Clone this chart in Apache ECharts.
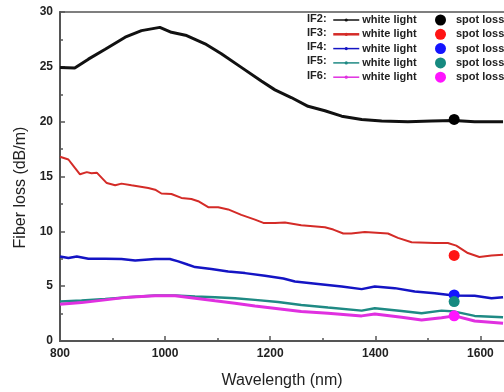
<!DOCTYPE html>
<html>
<head>
<meta charset="utf-8">
<script src="https://cdn.jsdelivr.net/npm/echarts@6/dist/echarts.min.js"></script>
<style>
  html, body { margin: 0; padding: 0; background: #fff; overflow: hidden; }
  /* the plot runs past the right edge, like the cropped original */
  #wrap { width: 504px; height: 392px; overflow: hidden; position: relative; }
  #chart { width: 533px; height: 392px; position: absolute; left: 0; top: 0; }
</style>
</head>
<body>
<div id="wrap"><div id="chart"></div></div>
<script>
// white light curves (nm, dB/m)
const if2Wl = [800, 828, 854, 886, 924, 955, 990, 1012, 1041, 1076, 1107, 1145, 1183, 1209, 1240, 1272, 1304, 1336, 1374, 1412, 1462, 1507, 1550, 1589, 1643];
const if2Loss = [24.95, 24.9, 25.7, 26.6, 27.7, 28.3, 28.6, 28.15, 27.85, 27.1, 26.2, 24.95, 23.7, 22.9, 22.2, 21.4, 21.0, 20.5, 20.2, 20.05, 20.0, 20.05, 20.1, 20.0, 20.0];

const if3Wl = [800, 816, 828, 838, 851, 860, 870, 879, 889, 905, 917, 936, 968, 981, 993, 1012, 1031, 1050, 1063, 1082, 1101, 1120, 1145, 1171, 1187, 1209, 1228, 1259, 1304, 1320, 1339, 1354, 1380, 1424, 1443, 1469, 1513, 1538, 1554, 1576, 1598, 1621, 1643];
const if3Loss = [16.8, 16.55, 15.8, 15.2, 15.4, 15.3, 15.35, 14.9, 14.4, 14.2, 14.35, 14.2, 13.95, 13.8, 13.45, 13.4, 13.05, 12.95, 12.75, 12.2, 12.2, 12.0, 11.5, 11.07, 10.77, 10.77, 10.8, 10.55, 10.37, 10.16, 9.8, 9.8, 9.94, 9.8, 9.4, 9.0, 8.93, 8.93, 8.7, 8.02, 7.66, 7.8, 7.87];

const if4Wl = [800, 816, 832, 854, 886, 917, 943, 981, 1009, 1025, 1044, 1057, 1088, 1120, 1152, 1190, 1225, 1247, 1291, 1336, 1374, 1399, 1437, 1475, 1513, 1549, 1589, 1621, 1643];
const if4Loss = [7.71, 7.56, 7.71, 7.5, 7.5, 7.47, 7.35, 7.47, 7.47, 7.26, 6.95, 6.74, 6.56, 6.34, 6.19, 5.95, 5.7, 5.43, 5.2, 4.97, 4.73, 4.97, 4.82, 4.51, 4.36, 4.14, 4.12, 3.9, 4.0];

const if5Wl = [800, 841, 886, 930, 981, 1019, 1057, 1095, 1133, 1171, 1215, 1259, 1310, 1374, 1399, 1450, 1488, 1526, 1551, 1589, 1643];
const if5Loss = [3.6, 3.69, 3.84, 4.0, 4.15, 4.15, 4.06, 4.0, 3.9, 3.75, 3.55, 3.29, 3.05, 2.77, 2.99, 2.74, 2.53, 2.77, 2.68, 2.29, 2.17];

const if6Wl = [800, 841, 886, 930, 981, 1019, 1057, 1095, 1133, 1171, 1215, 1259, 1310, 1374, 1399, 1450, 1488, 1526, 1551, 1589, 1643];
const if6Loss = [3.36, 3.5, 3.75, 4.0, 4.12, 4.12, 3.9, 3.66, 3.45, 3.2, 2.95, 2.68, 2.53, 2.29, 2.47, 2.17, 1.92, 2.13, 2.29, 1.83, 1.62];

// spot loss measurements at 1550 nm
const spotWl = 1550;
const spotLoss = [20.2, 7.8, 4.2, 3.6, 2.3];

const fiberNames = ['IF2', 'IF3', 'IF4', 'IF5', 'IF6'];
const lineColors = ['#111111', '#d42b27', '#1414c4', '#1f8a84', '#e030e0'];
const dotColors = ['#000000', '#ff1414', '#1414ff', '#168a80', '#ff14ff'];
const lineWidths = [3, 2, 2.5, 2.5, 3];

const curves = [
  [if2Wl, if2Loss],
  [if3Wl, if3Loss],
  [if4Wl, if4Loss],
  [if5Wl, if5Loss],
  [if6Wl, if6Loss]
];

const chart = echarts.init(document.getElementById('chart'));

const series = [];
curves.forEach(([wl, loss], i) => {
  series.push({
    name: fiberNames[i] + ' white light',
    type: 'line',
    data: wl.map((x, k) => [x, loss[k]]),
    symbol: i === 1 ? 'none' : 'circle',
    showSymbol: false,
    lineStyle: { width: lineWidths[i], color: lineColors[i] },
    itemStyle: { color: lineColors[i] },
    z: 2
  });
});
spotLoss.forEach((v, i) => {
  series.push({
    name: fiberNames[i] + ' spot loss',
    type: 'scatter',
    data: [[spotWl, v]],
    symbol: 'circle',
    symbolSize: 11,
    itemStyle: { color: dotColors[i], opacity: 1 },
    z: 5
  });
});

const axisColor = '#555';
const labelStyle = {
  fontFamily: 'Liberation Sans, Arial',
  fontWeight: 'bold',
  fontSize: 12,
  color: '#222',
  formatter: v => String(v)
};

chart.setOption({
  animation: false,
  backgroundColor: '#fff',
  grid: {
    left: 60,
    right: 0,
    top: 12,
    bottom: 51,
    outerBoundsMode: 'none',
    show: true,
    borderColor: axisColor,
    borderWidth: 1.5
  },
  xAxis: {
    type: 'value',
    min: 800,
    max: 1700,
    interval: 200,
    name: 'Wavelength (nm)',
    nameLocation: 'middle',
    nameGap: 32,
    nameTextStyle: { fontFamily: 'Liberation Sans, Arial', fontSize: 16, color: '#222', padding: [0, 29, 0, 0] },
    axisLine: { lineStyle: { color: axisColor, width: 2 } },
    axisTick: { inside: true, length: 5, lineStyle: { color: axisColor, width: 1.5 } },
    minorTick: { show: true, splitNumber: 2, length: 3, lineStyle: { color: axisColor, width: 1.5 } },
    splitLine: { show: false },
    axisLabel: Object.assign({ margin: 7 }, labelStyle)
  },
  yAxis: {
    type: 'value',
    min: 0,
    max: 30,
    interval: 5,
    name: 'Fiber loss (dB/m)',
    nameLocation: 'middle',
    nameGap: 31,
    nameRotate: 90,
    nameTextStyle: { fontFamily: 'Liberation Sans, Arial', fontSize: 16, color: '#222', padding: [0, 22, 0, 0] },
    axisLine: { show: true, lineStyle: { color: axisColor, width: 2 } },
    axisTick: { inside: true, length: 5, lineStyle: { color: axisColor, width: 1.5 } },
    minorTick: { show: true, splitNumber: 2, length: 3, lineStyle: { color: axisColor, width: 1.5 } },
    splitLine: { show: false },
    axisLabel: Object.assign({ margin: 7 }, labelStyle)
  },
  legend: [
    {
      orient: 'vertical',
      left: 332,
      top: 12.85,
      padding: 0,
      itemGap: 0,
      itemWidth: 26,
      itemHeight: 4,
      selectedMode: false,
      data: fiberNames.map((f, i) => ({
        name: f + ' white light',
        lineStyle: { width: i === 1 ? 2.5 : 1.5 }
      })),
      formatter: () => 'white light',
      textStyle: { fontFamily: 'Liberation Sans, Arial', fontWeight: 'bold', fontSize: 11, color: '#222', lineHeight: 14.3, padding: [0, 0, 0, -2] }
    },
    {
      orient: 'vertical',
      left: 435,
      top: 12.85,
      padding: 0,
      itemGap: 0,
      itemWidth: 11,
      itemHeight: 11,
      icon: 'circle',
      selectedMode: false,
      data: fiberNames.map(f => f + ' spot loss'),
      formatter: () => 'spot loss',
      textStyle: { fontFamily: 'Liberation Sans, Arial', fontWeight: 'bold', fontSize: 11, color: '#222', lineHeight: 14.3, padding: [0, 0, 0, 5] }
    }
  ],
  graphic: fiberNames.map((f, i) => ({
    type: 'text',
    left: 307,
    top: 20 + i * 14.3 - 7,
    style: {
      text: f + ':',
      font: 'bold 11px Liberation Sans, Arial',
      fill: '#222'
    }
  })),
  series: series
});
</script>
</body>
</html>
